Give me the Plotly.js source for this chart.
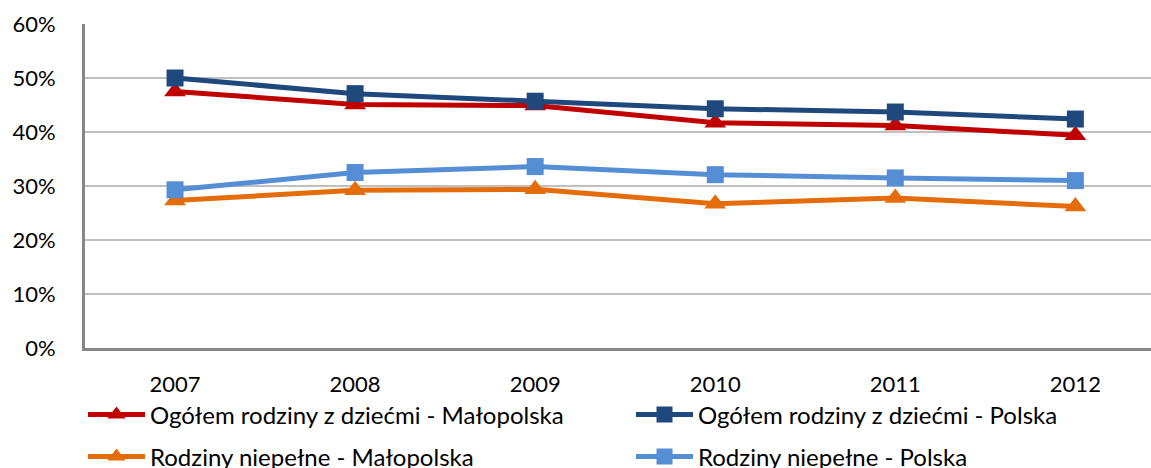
<!DOCTYPE html>
<html>
<head>
<meta charset="utf-8">
<script src="https://cdn.plot.ly/plotly-3.0.1.min.js"></script>
<style>html,body{margin:0;padding:0;background:#fff;}#chart{width:1151px;height:468px;}</style>
</head>
<body>
<div id="chart"></div>
<script>
const years = ['2007', '2008', '2009', '2010', '2011', '2012'];
const ogolemMalopolska = [47.5, 45.1, 44.9, 41.7, 41.2, 39.4];
const ogolemPolska = [50.0, 47.1, 45.7, 44.3, 43.7, 42.4];
const niepelneMalopolska = [27.3, 29.2, 29.4, 26.7, 27.8, 26.2];
const niepelnePolska = [29.3, 32.5, 33.6, 32.1, 31.5, 31.0];
const seriesNames = [
  'Ogółem rodziny z dziećmi - Małopolska',
  'Ogółem rodziny z dziećmi - Polska',
  'Rodziny niepełne - Małopolska',
  'Rodziny niepełne - Polska'
];
const yTicks = [0, 10, 20, 30, 40, 50, 60];

const FONT = 'Lato, "Open Sans", sans-serif';

function tr(name, y, color, symbol, msize, legend) {
  return {
    type: 'scatter', mode: 'lines+markers', name: name, x: years, y: y,
    line: {color: color, width: 5},
    marker: {color: color, symbol: symbol, size: msize},
    legend: legend, cliponaxis: false
  };
}

const data = [
  tr(seriesNames[0], ogolemMalopolska, '#C00000', 'triangle-up', 19, 'legend'),
  tr(seriesNames[1], ogolemPolska, '#1F497D', 'square', 17, 'legend2'),
  tr(seriesNames[2], niepelneMalopolska, '#E46C0A', 'triangle-up', 19, 'legend3'),
  tr(seriesNames[3], niepelnePolska, '#558ED5', 'square', 17, 'legend4')
];

function leg(xpx, ypx) {
  return {
    orientation: 'h', xref: 'container', yref: 'container',
    xanchor: 'left', yanchor: 'middle', x: xpx / 1151, y: 1 - ypx / 468,
    font: {family: FONT, size: 24, color: '#000'},
    itemwidth: 57,
    bgcolor: 'rgba(0,0,0,0)', borderwidth: 0, itemclick: false
  };
}

const layout = {
  width: 1151, height: 468,
  margin: {l: 85, r: 0, t: 24, b: 120},
  paper_bgcolor: '#fff', plot_bgcolor: '#fff',
  font: {family: FONT, size: 22, color: '#000'},
  showlegend: true,
  legend: leg(83, 415),
  legend2: leg(631, 415),
  legend3: leg(83, 457),
  legend4: leg(631, 457),
  xaxis: {
    type: 'category', range: [-0.5, 5.42],
    showgrid: false, showline: true, linecolor: '#868686', linewidth: 3,
    ticks: '', ticklabelstandoff: 15, zeroline: false,
    tickfont: {family: FONT, size: 22, color: '#000'}
  },
  yaxis: {
    range: [0, 60], tickvals: yTicks, ticktext: yTicks.map(v => v + '%'),
    showgrid: true, gridcolor: '#C0C0C0', gridwidth: 2,
    showline: true, linecolor: '#868686', linewidth: 3,
    ticks: '', ticklabelstandoff: 22, zeroline: false,
    tickfont: {family: FONT, size: 22, color: '#000'}
  }
};

Plotly.newPlot('chart', data, layout, {displayModeBar: false, staticPlot: true});
</script>
</body>
</html>
